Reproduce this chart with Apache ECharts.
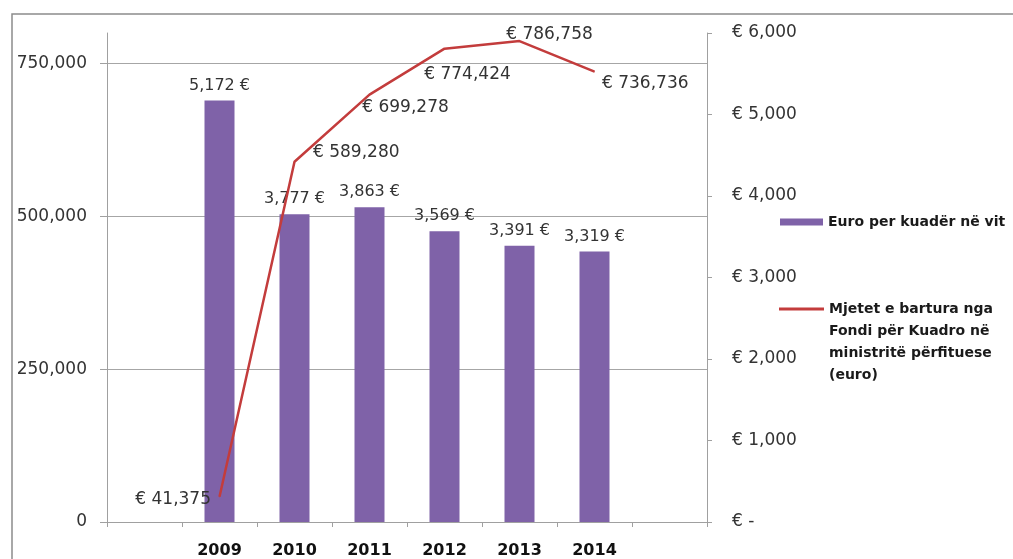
<!DOCTYPE html>
<html>
<head>
<meta charset="utf-8">
<script src="https://cdn.jsdelivr.net/npm/echarts@6/dist/echarts.min.js"></script>
<style>
html,body{margin:0;padding:0;background:#fff;}
#chart{width:1013px;height:559px;}
</style>
</head>
<body>
<div id="chart"></div>
<script>
// ---- data ----
const years = ['2009', '2010', '2011', '2012', '2013', '2014'];
const euroPerKuader = [5172, 3777, 3863, 3569, 3391, 3319];
const mjetetBartura = [41375, 589280, 699278, 774424, 786758, 736736];
const leftTickValues = [0, 250000, 500000, 750000];
const barName = 'Euro per kuadër në vit';
const lineName = 'Mjetet e bartura nga Fondi për Kuadro në ministritë përfituese (euro)';
const lineLegendLines = ['Mjetet e bartura nga', 'Fondi për Kuadro në', 'ministritë përfituese', '(euro)'];

// ---- layout of line labels (style only) ----
const lineLabelLayout = [
  { position: 'left', offset: [-3, 3] },
  { position: 'right', offset: [13, -9] },
  { position: 'bottom', offset: [36, -1] },
  { position: 'bottom', offset: [23, 12] },
  { position: 'top', offset: [30, 7] },
  { position: 'right', offset: [2, 12] }
];

const FONT = 'DejaVu Sans';
const categories = [''].concat(years, ['']);
const barData = [null].concat(euroPerKuader, [null]);
const lineData = [null].concat(mjetetBartura.map((v, i) => ({ value: v, label: lineLabelLayout[i] })), [null]);
// leading blank lines so the legend icon sits beside the first text line
const lineLegendText = '\n\n\n' + lineLegendLines.join('\n');

const fmt = v => Number(v).toLocaleString('en-US');
const axisGray = '#a0a0a0';

const chart = echarts.init(document.getElementById('chart'));
chart.setOption({
  animation: false,
  backgroundColor: '#fff',
  textStyle: { fontFamily: FONT },
  graphic: [{
    type: 'rect',
    silent: true,
    z: -10,
    shape: { x: 12, y: 14, width: 1100, height: 600 },
    style: { fill: 'none', stroke: '#8c8c8c', lineWidth: 1.5 }
  }],
  grid: { left: 107, right: 306, top: 33, bottom: 37, containLabel: false },
  legend: [{
    data: [{ name: barName, icon: 'rect' }],
    left: 775, top: 210,
    itemWidth: 43, itemHeight: 7,
    itemGap: 5,
    textStyle: { fontFamily: FONT, fontSize: 14, fontWeight: 'bold', color: '#1a1a1a' }
  }, {
    data: [{ name: lineName, icon: 'rect' }],
    left: 774, top: 227,
    itemWidth: 45, itemHeight: 3,
    formatter: function (name) { return name === lineName ? lineLegendText : name; },
    textStyle: { fontFamily: FONT, fontSize: 14, fontWeight: 'bold', color: '#1a1a1a', lineHeight: 22 }
  }],
  xAxis: {
    type: 'category',
    data: categories,
    boundaryGap: true,
    axisLine: { show: true, lineStyle: { color: axisGray, width: 1 } },
    axisTick: { show: true, length: 5, lineStyle: { color: axisGray } },
    axisLabel: { fontFamily: FONT, fontSize: 16, fontWeight: 'bold', color: '#111', margin: 21 },
    splitLine: { show: false }
  },
  yAxis: [{
    type: 'value',
    position: 'left',
    min: 0, max: 800000, interval: 250000,
    axisLine: { show: true, lineStyle: { color: axisGray, width: 1 } },
    axisTick: { show: true, length: 7, lineStyle: { color: axisGray }, customValues: leftTickValues },
    axisLabel: { fontFamily: FONT, fontSize: 17, color: '#333', margin: 20, formatter: fmt, customValues: leftTickValues },
    splitLine: { show: true, lineStyle: { color: '#a6a6a6', width: 1 } }
  }, {
    type: 'value',
    position: 'right',
    min: 0, max: 6000, interval: 1000,
    axisLine: { show: true, lineStyle: { color: axisGray, width: 1 } },
    axisTick: { show: true, length: 5, lineStyle: { color: axisGray } },
    axisLabel: {
      fontFamily: FONT, fontSize: 17, color: '#333', margin: 25,
      formatter: v => v === 0 ? '€ -' : '€ ' + fmt(v)
    },
    splitLine: { show: false }
  }],
  series: [{
    name: barName,
    type: 'bar',
    yAxisIndex: 1,
    data: barData,
    barWidth: 30,
    itemStyle: { color: '#7f62a8' },
    label: {
      show: true, position: 'top', distance: 7,
      fontFamily: FONT, fontSize: 16, color: '#333',
      formatter: p => fmt(p.value) + ' €'
    }
  }, {
    name: lineName,
    type: 'line',
    yAxisIndex: 0,
    data: lineData,
    symbol: 'circle',
    symbolSize: 1,
    showSymbol: true,
    itemStyle: { color: '#c33c3c' },
    lineStyle: { color: '#c33c3c', width: 2.5 },
    label: {
      show: true,
      fontFamily: FONT, fontSize: 17, color: '#333',
      formatter: p => '€ ' + fmt(p.value)
    },
    z: 5
  }]
});
</script>
</body>
</html>
